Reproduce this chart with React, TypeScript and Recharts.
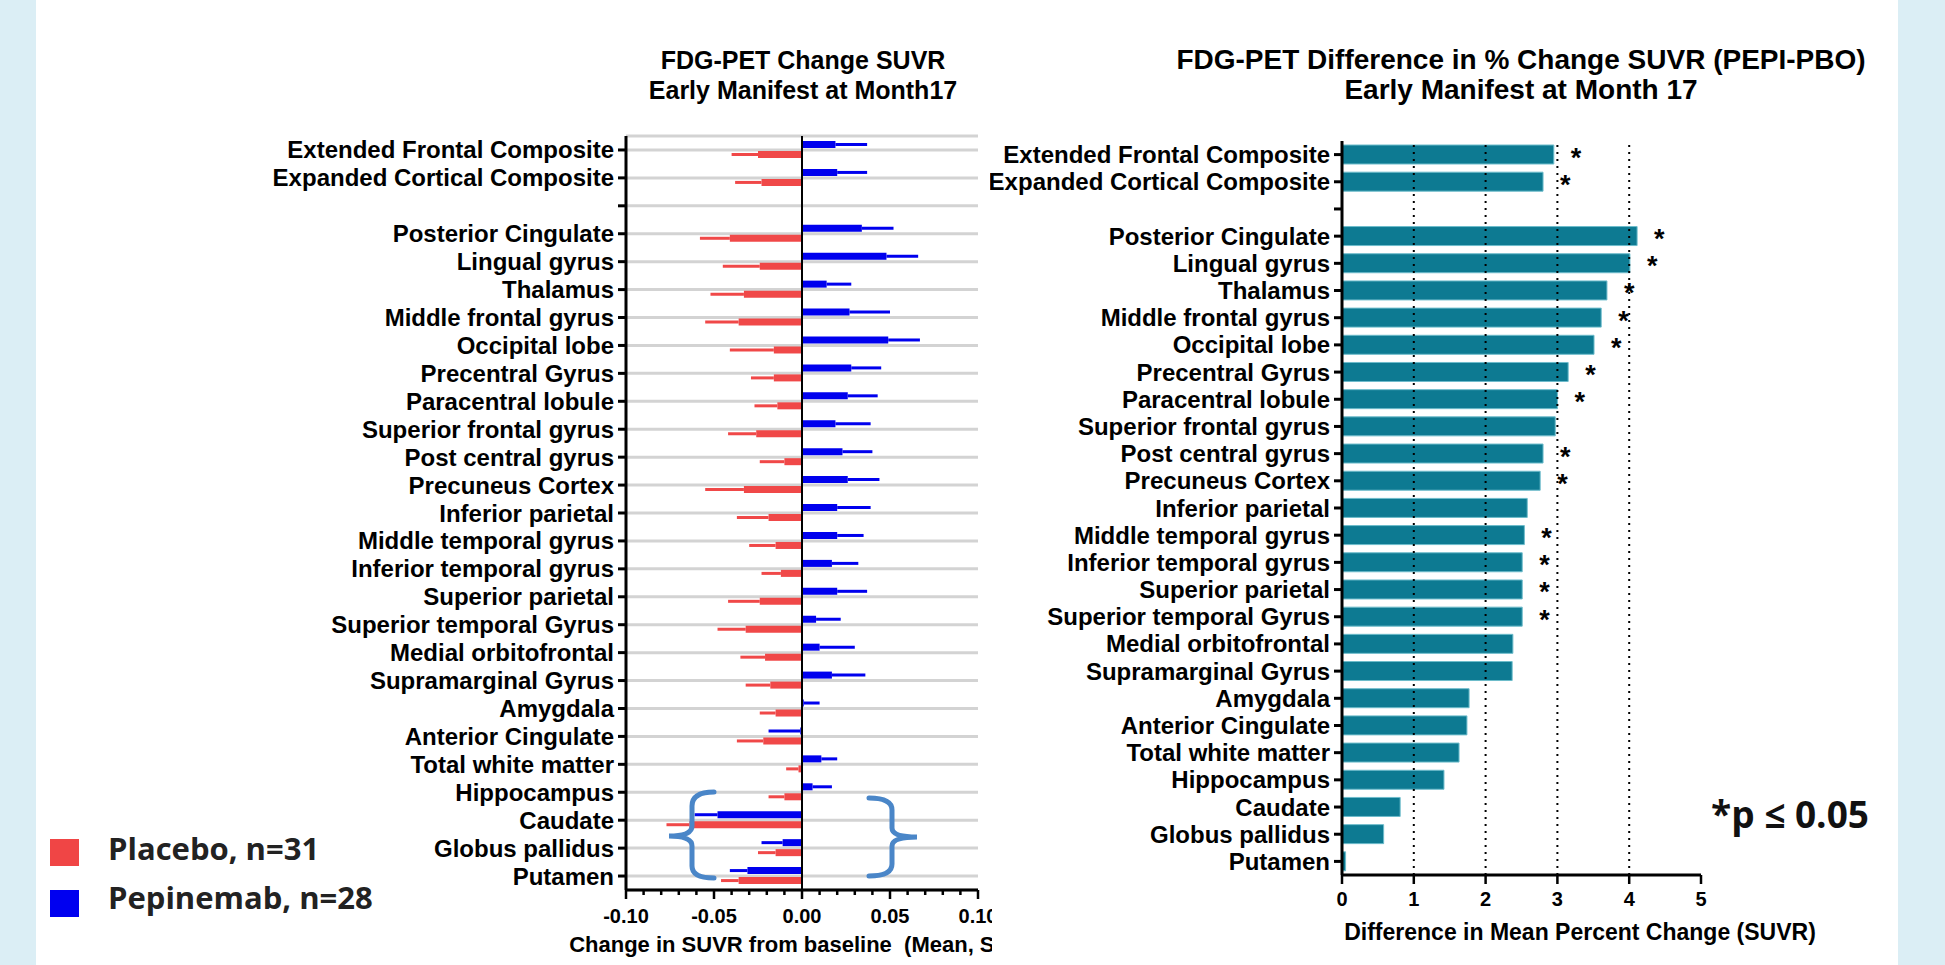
import {
  BarChart,
  Bar,
  XAxis,
  YAxis,
  CartesianGrid,
  ReferenceLine,
  ErrorBar,
  LabelList,
} from 'recharts';

const FONT = "'Liberation Sans', Arial, Helvetica, sans-serif";
const LEGEND_FONT = "'Open Sans', 'Liberation Sans', sans-serif";

const regions = [
  'Extended Frontal Composite', 'Expanded Cortical Composite', ' ',
  'Posterior Cingulate', 'Lingual gyrus', 'Thalamus', 'Middle frontal gyrus',
  'Occipital lobe', 'Precentral Gyrus', 'Paracentral lobule', 'Superior frontal gyrus',
  'Post central gyrus', 'Precuneus Cortex', 'Inferior parietal', 'Middle temporal gyrus',
  'Inferior temporal gyrus', 'Superior parietal', 'Superior temporal Gyrus',
  'Medial orbitofrontal', 'Supramarginal Gyrus', 'Amygdala', 'Anterior Cingulate',
  'Total white matter', 'Hippocampus', 'Caudate', 'Globus pallidus', 'Putamen',
];

// change in SUVR from baseline, mean and SEM
const pepiMean = [
  0.019, 0.020, null, 0.034, 0.048, 0.014, 0.027, 0.049, 0.028, 0.026, 0.019,
  0.023, 0.026, 0.020, 0.020, 0.017, 0.020, 0.008, 0.010, 0.017, 0.001, -0.001,
  0.011, 0.006, -0.048, -0.011, -0.031,
];
const pepiSem = [
  0.018, 0.017, null, 0.018, 0.018, 0.014, 0.023, 0.018, 0.017, 0.017, 0.020,
  0.017, 0.018, 0.019, 0.015, 0.015, 0.017, 0.014, 0.020, 0.019, 0.009, 0.018,
  0.009, 0.011, 0.013, 0.012, 0.010,
];
const pboMean = [
  -0.025, -0.023, null, -0.041, -0.024, -0.033, -0.036, -0.016, -0.016, -0.014, -0.026,
  -0.010, -0.033, -0.019, -0.015, -0.012, -0.024, -0.032, -0.021, -0.018, -0.015, -0.022,
  -0.002, -0.010, -0.064, -0.015, -0.036,
];
const pboSem = [
  0.015, 0.015, null, 0.017, 0.021, 0.019, 0.019, 0.025, 0.013, 0.013, 0.016,
  0.014, 0.022, 0.018, 0.015, 0.011, 0.018, 0.016, 0.014, 0.014, 0.009, 0.015,
  0.007, 0.009, 0.013, 0.010, 0.010,
];

// difference in mean percent change (PEPI - PBO)
const pctDiff = [
  2.95, 2.80, null, 4.11, 4.01, 3.69, 3.61, 3.51, 3.15, 3.00, 2.97,
  2.80, 2.76, 2.58, 2.54, 2.51, 2.51, 2.51, 2.38, 2.37, 1.77, 1.74,
  1.63, 1.42, 0.81, 0.58, 0.05,
];
const significant = [
  1, 1, 0, 1, 1, 1, 1, 1, 1, 1, 0,
  1, 1, 0, 1, 1, 1, 1, 0, 0, 0, 0,
  0, 0, 0, 0, 0,
];

const leftTicks = [
  -0.1, -0.09, -0.08, -0.07, -0.06, -0.05, -0.04, -0.03, -0.02, -0.01, 0,
  0.01, 0.02, 0.03, 0.04, 0.05, 0.06, 0.07, 0.08, 0.09, 0.1,
];
const rightTicks = [0, 1, 2, 3, 4, 5];
const dottedAt = [1, 2, 3, 4];

// error bars only drawn outward from the bar end
const oneSided = (m: number | null, e: number | null) =>
  m == null || e == null ? null : m >= 0 ? [0, e] : [e, 0];

const leftRows = regions.map((name, i) => ({
  name,
  pepi: pepiMean[i],
  pepiErr: oneSided(pepiMean[i], pepiSem[i]),
  pbo: pboMean[i],
  pboErr: oneSided(pboMean[i], pboSem[i]),
}));

const rightRows = regions.map((name, i) => ({
  name,
  diff: pctDiff[i],
  star: significant[i] ? '*' : '',
}));

const RED = '#f04848';
const BLUE = '#0000ee';
const TEAL = '#0d7a92';

function LeftTick(props: any) {
  const { x, y, payload } = props;
  const v = payload.value as number;
  const major = Math.abs(Math.round(v * 100)) % 5 === 0;
  return (
    <g>
      <line x1={x} x2={x} y1={y} y2={y + (major ? 9 : 5)} stroke="#000" strokeWidth={2.5} />
      {major && (
        <text x={x} y={y + 33} textAnchor="middle" fontSize={20} fontWeight={700} fontFamily={FONT} fill="#000">
          {v.toFixed(2)}
        </text>
      )}
    </g>
  );
}

function RightTick(props: any) {
  const { x, y, payload } = props;
  return (
    <g>
      <line x1={x} x2={x} y1={y} y2={y + 9} stroke="#000" strokeWidth={2.5} />
      <text x={x} y={y + 31} textAnchor="middle" fontSize={20} fontWeight={700} fontFamily={FONT} fill="#000">
        {payload.value}
      </text>
    </g>
  );
}

function Star(props: any) {
  const { x, y, width, height, value } = props;
  if (!value) return null;
  return (
    <text x={Number(x) + Number(width) + 17} y={Number(y) + Number(height) / 2 + 12} fontSize={27} fontWeight={700} fontFamily={FONT} fill="#000">
      {value}
    </text>
  );
}

const yTick = { fontSize: 24, fontWeight: 700, fill: '#000', fontFamily: FONT };
const blackLine = { stroke: '#000', strokeWidth: 3 };

export default function App() {
  return (
    <div style={{ position: 'absolute', left: 0, top: 0, width: 1945, height: 965, background: '#dbeef5', fontFamily: FONT, overflow: 'hidden' }}>
      <div style={{ position: 'absolute', left: 36, top: 0, width: 1862, height: 965, background: '#fff' }} />

      {/* titles */}
      <div style={{ position: 'absolute', left: 503, top: 45, width: 600, textAlign: 'center', fontSize: 25, fontWeight: 700, lineHeight: '30px' }}>
        FDG-PET Change SUVR<br />Early Manifest at Month17
      </div>
      <div style={{ position: 'absolute', left: 1071, top: 45, width: 900, textAlign: 'center', fontSize: 28, fontWeight: 700, lineHeight: '30px' }}>
        FDG-PET Difference in % Change SUVR (PEPI-PBO)<br />Early Manifest at Month 17
      </div>

      {/* left chart, cut off on the right like the source slide */}
      <div style={{ position: 'absolute', left: 240, top: 120, width: 752, height: 845, overflow: 'hidden' }}>
        <BarChart
          width={800}
          height={840}
          data={leftRows}
          layout="vertical"
          margin={{ top: 16, right: 62, bottom: 0, left: 0 }}
          barSize={7}
          barGap={3}
        >
          <CartesianGrid horizontal vertical={false} stroke="#d3d3d3" strokeWidth={3} />
          <XAxis
            type="number"
            domain={[-0.1, 0.1]}
            ticks={leftTicks}
            interval={0}
            allowDataOverflow
            tick={(p: any) => <LeftTick {...p} />}
            tickLine={false}
            tickSize={0}
            tickMargin={0}
            axisLine={blackLine}
            height={70}
          />
          <YAxis
            type="category"
            dataKey="name"
            width={386}
            interval={0}
            tick={yTick}
            tickSize={8}
            tickMargin={4}
            tickLine={blackLine}
            axisLine={blackLine}
          />
          <ReferenceLine x={0} stroke="#000" strokeWidth={2} />
          <Bar dataKey="pepi" fill={BLUE} isAnimationActive={false}>
            <ErrorBar dataKey="pepiErr" direction="x" width={0} stroke={BLUE} strokeWidth={3} />
          </Bar>
          <Bar dataKey="pbo" fill={RED} isAnimationActive={false}>
            <ErrorBar dataKey="pboErr" direction="x" width={0} stroke={RED} strokeWidth={3} />
          </Bar>
        </BarChart>
        <div style={{ position: 'absolute', left: 62, top: 811, width: 1000, textAlign: 'center', fontSize: 22, fontWeight: 700, lineHeight: '28px', whiteSpace: 'pre' }}>
          {'Change in SUVR from baseline  (Mean, SEM)'}
        </div>
      </div>

      {/* right chart */}
      <div style={{ position: 'absolute', left: 990, top: 125 }}>
        <BarChart
          width={741}
          height={820}
          data={rightRows}
          layout="vertical"
          margin={{ top: 16, right: 30, bottom: 0, left: 0 }}
          barSize={19}
        >
          <XAxis
            type="number"
            domain={[0, 5]}
            ticks={rightTicks}
            interval={0}
            tick={(p: any) => <RightTick {...p} />}
            tickLine={false}
            tickSize={0}
            tickMargin={0}
            axisLine={blackLine}
            height={70}
          />
          <YAxis
            type="category"
            dataKey="name"
            width={352}
            interval={0}
            tick={yTick}
            tickSize={8}
            tickMargin={4}
            tickLine={blackLine}
            axisLine={blackLine}
          />
          {dottedAt.map((v) => (
            <ReferenceLine key={v} x={v} stroke="#000" strokeWidth={2} strokeDasharray="2 5" />
          ))}
          <Bar dataKey="diff" fill={TEAL} stroke="#6dbccb" strokeWidth={1} isAnimationActive={false}>
            <LabelList dataKey="star" content={(p: any) => <Star {...p} />} />
          </Bar>
        </BarChart>
      </div>
      <div style={{ position: 'absolute', left: 1180, top: 918, width: 800, textAlign: 'center', fontSize: 23, fontWeight: 700, lineHeight: '28px' }}>
        Difference in Mean Percent Change (SUVR)
      </div>

      {/* braces around the basal ganglia rows */}
      <svg width={1945} height={965} style={{ position: 'absolute', left: 0, top: 0, pointerEvents: 'none' }}>
        <g fill="none" stroke="#4a86c8" strokeWidth={5} strokeLinecap="round">
          <path d="M714 792 Q692 792 692 806 L692 826 Q692 836 669 836 Q692 836 692 846 L692 866 Q692 878 714 878" />
          <path d="M869 798 Q892 798 892 810 L892 828 Q892 837 917 837 Q892 837 892 846 L892 864 Q892 876 869 876" />
        </g>
      </svg>

      {/* legend */}
      <div style={{ position: 'absolute', left: 50, top: 839, width: 29, height: 27, background: '#f04545' }} />
      <div style={{ position: 'absolute', left: 50, top: 890, width: 29, height: 27, background: '#0000f0' }} />
      <div style={{ position: 'absolute', left: 108, top: 833, fontFamily: LEGEND_FONT, fontSize: 31, fontWeight: 700, lineHeight: '31px', color: '#222', whiteSpace: 'nowrap' }}>
        Placebo, n=31
      </div>
      <div style={{ position: 'absolute', left: 108, top: 882, fontFamily: LEGEND_FONT, fontSize: 31, fontWeight: 700, lineHeight: '31px', color: '#222', whiteSpace: 'nowrap' }}>
        Pepinemab, n=28
      </div>
      <div style={{ position: 'absolute', left: 1711, top: 795, fontFamily: LEGEND_FONT, fontSize: 37, fontWeight: 700, lineHeight: '37px', color: '#111', whiteSpace: 'nowrap' }}>
        *p ≤ 0.05
      </div>
    </div>
  );
}
